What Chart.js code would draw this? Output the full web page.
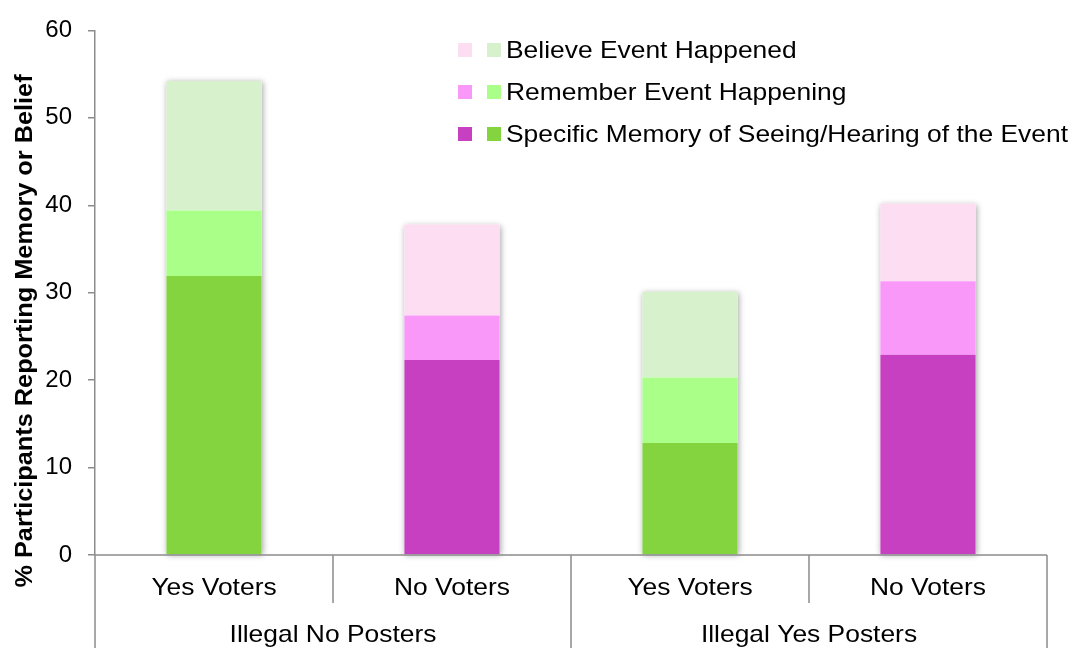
<!DOCTYPE html>
<html>
<head>
<meta charset="utf-8">
<script src="https://cdn.jsdelivr.net/npm/chart.js@4.4.1/dist/chart.umd.min.js"></script>
<style>
    html, body { margin: 0; padding: 0; background: #fff; }
    #wrap { width: 1077px; height: 648px; }
</style>
</head>
<body>
<div id="wrap"><canvas id="chart" width="1077" height="648"></canvas></div>
<script>
// Memory / belief by poster condition

const groups = ['Illegal No Posters', 'Illegal Yes Posters'];
const voters = ['Yes Voters', 'No Voters', 'Yes Voters', 'No Voters'];
const seriesNames = ['Specific Memory of Seeing/Hearing of the Event', 'Remember Event Happening', 'Believe Event Happened'];

// stack pieces, bottom to top
const specificMemory = [31.9, 22.3, 12.8, 22.9];
const rememberEvent = [7.5, 5.1, 7.5, 8.4];
const believeEvent = [14.8, 10.4, 9.8, 8.9];

const yTicks = [0, 10, 20, 30, 40, 50, 60];
const yTitle = '% Participants Reporting Memory or Belief';

// yes voters are green, no voters magenta (dark -> light)
const greens = ['#84D440', '#AAFF88', '#D8F1CD'];
const pinks = ['#C840C2', '#FA98FA', '#FCDDF1'];

const axisGray = '#8c8c8c';
const fontFamily = "'Liberation Sans', Arial, sans-serif";

function barColors(level) {
    return voters.map(v => v === 'Yes Voters' ? greens[level] : pinks[level]);
}

// Excel text looks a bit wider than Arial, stretch it a little
function drawText(ctx, text, x, y, align, font, angle) {
    ctx.save();
    ctx.translate(x, y);
    if (angle) ctx.rotate(angle);
    ctx.scale(1.1, 1);
    ctx.font = font;
    ctx.fillStyle = '#000';
    ctx.textAlign = align;
    ctx.textBaseline = 'alphabetic';
    ctx.fillText(text, 0, 0);
    ctx.restore();
}

const decorPlugin = {
    id: 'decor',
    beforeDatasetsDraw(chart) {
        // soft shadow behind each whole stack
        const ctx = chart.ctx;
        const bottomMeta = chart.getDatasetMeta(0);
        const topMeta = chart.getDatasetMeta(2);
        ctx.save();
        ctx.shadowColor = 'rgba(0,0,0,0.35)';
        ctx.shadowBlur = 6;
        ctx.shadowOffsetX = 1;
        ctx.shadowOffsetY = 1;
        ctx.fillStyle = '#fff';
        bottomMeta.data.forEach((bar, i) => {
            const top = topMeta.data[i];
            ctx.fillRect(bar.x - bar.width / 2, top.y, bar.width, bar.base - top.y);
        });
        ctx.restore();
    },
    afterDraw(chart) {
        const ctx = chart.ctx;
        const area = chart.chartArea;
        const x = chart.scales.x;
        const base = chart.scales.y.getPixelForValue(0);
        const n = voters.length;
        const half = (x.getPixelForValue(1) - x.getPixelForValue(0)) / 2;

        ctx.save();
        ctx.strokeStyle = axisGray;
        ctx.lineWidth = 1.5;
        ctx.beginPath();
        ctx.moveTo(area.left, base);
        ctx.lineTo(area.right, base);
        // category dividers: short between voters, long between groups
        for (let i = 0; i <= n; i++) {
            const px = i < n ? x.getPixelForValue(i) - half : x.getPixelForValue(n - 1) + half;
            const long = i % 2 === 0;
            ctx.moveTo(px, base);
            ctx.lineTo(px, long ? chart.height : base + 48);
        }
        ctx.stroke();
        ctx.restore();

        const labelFont = '24px ' + fontFamily;
        voters.forEach((v, i) => {
            drawText(ctx, v, x.getPixelForValue(i), base + 40, 'center', labelFont);
        });
        groups.forEach((g, i) => {
            const mid = (x.getPixelForValue(i * 2) + x.getPixelForValue(i * 2 + 1)) / 2;
            drawText(ctx, g, mid, base + 87, 'center', labelFont);
        });

        // y axis title
        drawText(ctx, yTitle, 32, 331, 'center', 'bold 23px ' + fontFamily, -Math.PI / 2);

        // legend with paired swatches, top row is the top of the stack
        const rows = [2, 1, 0];
        rows.forEach((level, r) => {
            const baseline = 58 + r * 42;
            ctx.fillStyle = pinks[level];
            ctx.fillRect(458, baseline - 15, 14, 14);
            ctx.fillStyle = greens[level];
            ctx.fillRect(487, baseline - 15, 14, 14);
            drawText(ctx, seriesNames[level], 506, baseline, 'left', labelFont);
        });
    }
};

Chart.defaults.font.family = fontFamily;
Chart.defaults.color = '#000';

new Chart(document.getElementById('chart'), {
    type: 'bar',
    data: {
        labels: voters,
        datasets: [
            { label: seriesNames[0], data: specificMemory, backgroundColor: barColors(0) },
            { label: seriesNames[1], data: rememberEvent, backgroundColor: barColors(1) },
            { label: seriesNames[2], data: believeEvent, backgroundColor: barColors(2) }
        ]
    },
    options: {
        responsive: false,
        devicePixelRatio: 1,
        animation: false,
        layout: { padding: { top: 28, right: 30, bottom: 93, left: 0 } },
        datasets: { bar: { barPercentage: 0.4, categoryPercentage: 1, borderWidth: 0 } },
        plugins: {
            legend: { display: false },
            tooltip: { enabled: false }
        },
        scales: {
            x: {
                stacked: true,
                display: false
            },
            y: {
                stacked: true,
                min: yTicks[0],
                max: yTicks[yTicks.length - 1],
                afterBuildTicks: scale => { scale.ticks = yTicks.map(v => ({ value: v })); },
                afterFit: scale => { scale.width = 95; },
                ticks: { font: { size: 24 }, color: '#000', padding: 16 },
                grid: { drawOnChartArea: false, drawTicks: true, tickLength: 7, color: axisGray, lineWidth: 1.5 },
                border: { color: axisGray, width: 1.5 }
            }
        }
    },
    plugins: [decorPlugin]
});
</script>
</body>
</html>
